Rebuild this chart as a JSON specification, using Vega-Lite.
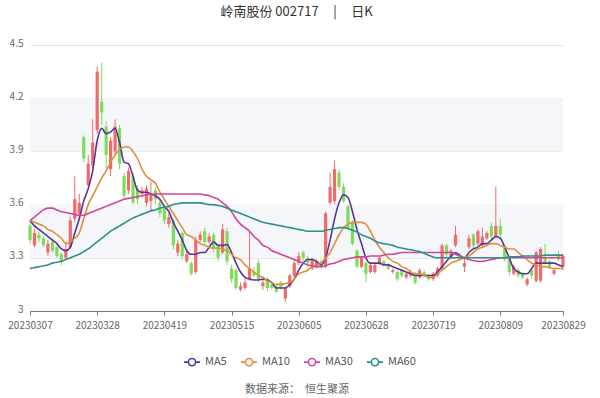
{
  "$schema": "https://vega.github.io/schema/vega-lite/v6.json",
  "width": 533,
  "height": 266,
  "autosize": {"type": "none"},
  "padding": {"left": 30, "top": 45, "right": 37, "bottom": 87},
  "background": "white",
  "config": {
    "font": "Noto Sans CJK SC",
    "view": {"stroke": null}
  },
  "title": {
    "text": "岭南股份 002717\u00a0\u00a0\u00a0\u00a0\u00a0|\u00a0\u00a0\u00a0\u00a0\u00a0日K",
    "anchor": "middle",
    "fontSize": 13,
    "fontWeight": "normal",
    "color": "#333333",
    "offset": 19
  },
  "datasets": {
    "k": [
      {"d":"20230307","o":3.48,"c":3.40,"h":3.50,"l":3.38,"MA5":3.51,"MA10":3.51,"MA30":3.51,"MA60":3.24},
      {"d":"20230308","o":3.37,"c":3.44,"h":3.46,"l":3.36,"MA5":3.48,"MA10":3.50,"MA30":3.53,"MA60":3.245},
      {"d":"20230309","o":3.43,"c":3.41,"h":3.45,"l":3.39,"MA5":3.46,"MA10":3.49,"MA30":3.55,"MA60":3.25},
      {"d":"20230310","o":3.41,"c":3.37,"h":3.42,"l":3.36,"MA5":3.44,"MA10":3.48,"MA30":3.57,"MA60":3.255},
      {"d":"20230313","o":3.33,"c":3.38,"h":3.40,"l":3.31,"MA5":3.42,"MA10":3.46,"MA30":3.58,"MA60":3.26},
      {"d":"20230314","o":3.39,"c":3.34,"h":3.41,"l":3.33,"MA5":3.40,"MA10":3.45,"MA30":3.58,"MA60":3.27},
      {"d":"20230315","o":3.36,"c":3.31,"h":3.37,"l":3.30,"MA5":3.38,"MA10":3.43,"MA30":3.57,"MA60":3.275},
      {"d":"20230316","o":3.32,"c":3.28,"h":3.33,"l":3.26,"MA5":3.35,"MA10":3.41,"MA30":3.56,"MA60":3.28},
      {"d":"20230317","o":3.30,"c":3.35,"h":3.39,"l":3.29,"MA5":3.34,"MA10":3.38,"MA30":3.555,"MA60":3.29},
      {"d":"20230320","o":3.36,"c":3.51,"h":3.53,"l":3.35,"MA5":3.36,"MA10":3.39,"MA30":3.55,"MA60":3.30},
      {"d":"20230321","o":3.52,"c":3.63,"h":3.76,"l":3.50,"MA5":3.44,"MA10":3.41,"MA30":3.545,"MA60":3.31},
      {"d":"20230322","o":3.55,"c":3.61,"h":3.66,"l":3.52,"MA5":3.52,"MA10":3.44,"MA30":3.54,"MA60":3.32},
      {"d":"20230323","o":3.98,"c":3.86,"h":3.99,"l":3.84,"MA5":3.62,"MA10":3.52,"MA30":3.54,"MA60":3.335},
      {"d":"20230324","o":3.71,"c":3.83,"h":3.88,"l":3.70,"MA5":3.69,"MA10":3.60,"MA30":3.55,"MA60":3.35},
      {"d":"20230327","o":3.82,"c":3.95,"h":4.08,"l":3.80,"MA5":3.79,"MA10":3.65,"MA30":3.56,"MA60":3.37},
      {"d":"20230328","o":4.02,"c":4.35,"h":4.38,"l":4.00,"MA5":3.96,"MA10":3.70,"MA30":3.57,"MA60":3.39},
      {"d":"20230329","o":4.18,"c":4.12,"h":4.40,"l":4.05,"MA5":4.03,"MA10":3.75,"MA30":3.58,"MA60":3.41},
      {"d":"20230330","o":4.04,"c":3.88,"h":4.07,"l":3.80,"MA5":4.00,"MA10":3.79,"MA30":3.59,"MA60":3.43},
      {"d":"20230331","o":3.80,"c":3.96,"h":3.98,"l":3.76,"MA5":4.01,"MA10":3.84,"MA30":3.60,"MA60":3.45},
      {"d":"20230403","o":3.90,"c":4.04,"h":4.08,"l":3.88,"MA5":4.03,"MA10":3.88,"MA30":3.61,"MA60":3.465},
      {"d":"20230404","o":4.03,"c":3.83,"h":4.05,"l":3.80,"MA5":3.95,"MA10":3.91,"MA30":3.62,"MA60":3.48},
      {"d":"20230406","o":3.76,"c":3.65,"h":3.78,"l":3.63,"MA5":3.84,"MA10":3.925,"MA30":3.63,"MA60":3.495},
      {"d":"20230407","o":3.68,"c":3.79,"h":3.81,"l":3.66,"MA5":3.83,"MA10":3.925,"MA30":3.635,"MA60":3.51},
      {"d":"20230410","o":3.76,"c":3.61,"h":3.78,"l":3.60,"MA5":3.76,"MA10":3.90,"MA30":3.64,"MA60":3.525},
      {"d":"20230411","o":3.69,"c":3.63,"h":3.71,"l":3.60,"MA5":3.68,"MA10":3.86,"MA30":3.645,"MA60":3.535},
      {"d":"20230412","o":3.66,"c":3.68,"h":3.70,"l":3.64,"MA5":3.67,"MA10":3.80,"MA30":3.65,"MA60":3.545},
      {"d":"20230413","o":3.61,"c":3.69,"h":3.71,"l":3.59,"MA5":3.67,"MA10":3.76,"MA30":3.655,"MA60":3.555},
      {"d":"20230414","o":3.62,"c":3.66,"h":3.73,"l":3.56,"MA5":3.66,"MA10":3.74,"MA30":3.66,"MA60":3.565},
      {"d":"20230417","o":3.68,"c":3.63,"h":3.70,"l":3.60,"MA5":3.65,"MA10":3.72,"MA30":3.66,"MA60":3.57},
      {"d":"20230418","o":3.61,"c":3.55,"h":3.63,"l":3.53,"MA5":3.63,"MA10":3.67,"MA30":3.66,"MA60":3.58},
      {"d":"20230419","o":3.58,"c":3.51,"h":3.60,"l":3.49,"MA5":3.59,"MA10":3.63,"MA30":3.66,"MA60":3.585},
      {"d":"20230420","o":3.49,"c":3.53,"h":3.55,"l":3.47,"MA5":3.56,"MA10":3.59,"MA30":3.66,"MA60":3.59},
      {"d":"20230421","o":3.51,"c":3.37,"h":3.52,"l":3.35,"MA5":3.50,"MA10":3.55,"MA30":3.66,"MA60":3.60},
      {"d":"20230424","o":3.33,"c":3.38,"h":3.40,"l":3.31,"MA5":3.45,"MA10":3.51,"MA30":3.66,"MA60":3.605},
      {"d":"20230425","o":3.44,"c":3.31,"h":3.45,"l":3.29,"MA5":3.40,"MA10":3.47,"MA30":3.66,"MA60":3.61},
      {"d":"20230426","o":3.28,"c":3.32,"h":3.35,"l":3.27,"MA5":3.34,"MA10":3.43,"MA30":3.66,"MA60":3.61},
      {"d":"20230427","o":3.27,"c":3.21,"h":3.28,"l":3.20,"MA5":3.32,"MA10":3.42,"MA30":3.66,"MA60":3.61},
      {"d":"20230428","o":3.22,"c":3.40,"h":3.42,"l":3.21,"MA5":3.32,"MA10":3.40,"MA30":3.66,"MA60":3.61},
      {"d":"20230504","o":3.40,"c":3.43,"h":3.45,"l":3.39,"MA5":3.33,"MA10":3.38,"MA30":3.66,"MA60":3.61},
      {"d":"20230505","o":3.45,"c":3.39,"h":3.47,"l":3.37,"MA5":3.33,"MA10":3.37,"MA30":3.655,"MA60":3.605},
      {"d":"20230508","o":3.39,"c":3.42,"h":3.44,"l":3.38,"MA5":3.36,"MA10":3.36,"MA30":3.65,"MA60":3.60},
      {"d":"20230509","o":3.43,"c":3.35,"h":3.44,"l":3.33,"MA5":3.39,"MA10":3.355,"MA30":3.64,"MA60":3.60},
      {"d":"20230510","o":3.37,"c":3.30,"h":3.38,"l":3.28,"MA5":3.37,"MA10":3.355,"MA30":3.63,"MA60":3.595},
      {"d":"20230511","o":3.33,"c":3.46,"h":3.49,"l":3.32,"MA5":3.37,"MA10":3.35,"MA30":3.61,"MA60":3.59},
      {"d":"20230512","o":3.45,"c":3.28,"h":3.47,"l":3.26,"MA5":3.375,"MA10":3.34,"MA30":3.59,"MA60":3.58},
      {"d":"20230515","o":3.24,"c":3.18,"h":3.26,"l":3.16,"MA5":3.33,"MA10":3.32,"MA30":3.56,"MA60":3.57},
      {"d":"20230516","o":3.23,"c":3.13,"h":3.24,"l":3.12,"MA5":3.27,"MA10":3.30,"MA30":3.52,"MA60":3.56},
      {"d":"20230517","o":3.12,"c":3.14,"h":3.16,"l":3.11,"MA5":3.22,"MA10":3.29,"MA30":3.49,"MA60":3.55},
      {"d":"20230518","o":3.13,"c":3.16,"h":3.18,"l":3.12,"MA5":3.19,"MA10":3.26,"MA30":3.47,"MA60":3.54},
      {"d":"20230519","o":3.18,"c":3.24,"h":3.45,"l":3.17,"MA5":3.18,"MA10":3.24,"MA30":3.45,"MA60":3.53},
      {"d":"20230522","o":3.22,"c":3.20,"h":3.25,"l":3.19,"MA5":3.175,"MA10":3.22,"MA30":3.42,"MA60":3.52},
      {"d":"20230523","o":3.27,"c":3.18,"h":3.29,"l":3.16,"MA5":3.175,"MA10":3.20,"MA30":3.40,"MA60":3.51},
      {"d":"20230524","o":3.14,"c":3.16,"h":3.18,"l":3.12,"MA5":3.18,"MA10":3.19,"MA30":3.37,"MA60":3.50},
      {"d":"20230525","o":3.18,"c":3.13,"h":3.19,"l":3.11,"MA5":3.175,"MA10":3.17,"MA30":3.36,"MA60":3.495},
      {"d":"20230526","o":3.15,"c":3.13,"h":3.16,"l":3.12,"MA5":3.16,"MA10":3.16,"MA30":3.34,"MA60":3.49},
      {"d":"20230529","o":3.14,"c":3.11,"h":3.15,"l":3.10,"MA5":3.13,"MA10":3.15,"MA30":3.33,"MA60":3.485},
      {"d":"20230530","o":3.16,"c":3.13,"h":3.17,"l":3.12,"MA5":3.13,"MA10":3.15,"MA30":3.32,"MA60":3.48},
      {"d":"20230531","o":3.07,"c":3.13,"h":3.14,"l":3.05,"MA5":3.13,"MA10":3.155,"MA30":3.31,"MA60":3.475},
      {"d":"20230601","o":3.14,"c":3.20,"h":3.21,"l":3.13,"MA5":3.15,"MA10":3.16,"MA30":3.30,"MA60":3.47},
      {"d":"20230602","o":3.20,"c":3.27,"h":3.29,"l":3.19,"MA5":3.18,"MA10":3.18,"MA30":3.29,"MA60":3.465},
      {"d":"20230605","o":3.27,"c":3.31,"h":3.33,"l":3.26,"MA5":3.23,"MA10":3.21,"MA30":3.28,"MA60":3.46},
      {"d":"20230606","o":3.33,"c":3.30,"h":3.34,"l":3.28,"MA5":3.27,"MA10":3.22,"MA30":3.27,"MA60":3.455},
      {"d":"20230607","o":3.30,"c":3.27,"h":3.31,"l":3.25,"MA5":3.29,"MA10":3.23,"MA30":3.26,"MA60":3.45},
      {"d":"20230608","o":3.24,"c":3.29,"h":3.30,"l":3.23,"MA5":3.29,"MA10":3.25,"MA30":3.255,"MA60":3.45},
      {"d":"20230609","o":3.25,"c":3.28,"h":3.29,"l":3.24,"MA5":3.28,"MA10":3.26,"MA30":3.25,"MA60":3.45},
      {"d":"20230612","o":3.28,"c":3.25,"h":3.29,"l":3.24,"MA5":3.26,"MA10":3.27,"MA30":3.25,"MA60":3.45},
      {"d":"20230613","o":3.25,"c":3.55,"h":3.56,"l":3.24,"MA5":3.30,"MA10":3.30,"MA30":3.255,"MA60":3.455},
      {"d":"20230614","o":3.61,"c":3.70,"h":3.78,"l":3.60,"MA5":3.40,"MA10":3.33,"MA30":3.265,"MA60":3.46},
      {"d":"20230615","o":3.62,"c":3.80,"h":3.85,"l":3.60,"MA5":3.52,"MA10":3.38,"MA30":3.27,"MA60":3.465},
      {"d":"20230616","o":3.78,"c":3.70,"h":3.80,"l":3.68,"MA5":3.61,"MA10":3.43,"MA30":3.28,"MA60":3.47},
      {"d":"20230619","o":3.70,"c":3.62,"h":3.72,"l":3.61,"MA5":3.655,"MA10":3.47,"MA30":3.29,"MA60":3.47},
      {"d":"20230620","o":3.59,"c":3.47,"h":3.60,"l":3.46,"MA5":3.64,"MA10":3.49,"MA30":3.295,"MA60":3.465},
      {"d":"20230621","o":3.50,"c":3.38,"h":3.51,"l":3.37,"MA5":3.56,"MA10":3.50,"MA30":3.30,"MA60":3.455},
      {"d":"20230626","o":3.34,"c":3.25,"h":3.35,"l":3.24,"MA5":3.46,"MA10":3.50,"MA30":3.305,"MA60":3.445},
      {"d":"20230627","o":3.25,"c":3.30,"h":3.31,"l":3.24,"MA5":3.38,"MA10":3.50,"MA30":3.305,"MA60":3.43},
      {"d":"20230628","o":3.27,"c":3.21,"h":3.28,"l":3.16,"MA5":3.30,"MA10":3.49,"MA30":3.305,"MA60":3.42},
      {"d":"20230629","o":3.22,"c":3.26,"h":3.27,"l":3.21,"MA5":3.27,"MA10":3.45,"MA30":3.31,"MA60":3.41},
      {"d":"20230630","o":3.22,"c":3.26,"h":3.27,"l":3.21,"MA5":3.27,"MA10":3.40,"MA30":3.31,"MA60":3.395},
      {"d":"20230703","o":3.27,"c":3.30,"h":3.31,"l":3.26,"MA5":3.27,"MA10":3.36,"MA30":3.31,"MA60":3.385},
      {"d":"20230704","o":3.28,"c":3.26,"h":3.29,"l":3.25,"MA5":3.26,"MA10":3.33,"MA30":3.315,"MA60":3.38},
      {"d":"20230705","o":3.26,"c":3.24,"h":3.27,"l":3.23,"MA5":3.26,"MA10":3.30,"MA30":3.32,"MA60":3.375},
      {"d":"20230706","o":3.22,"c":3.23,"h":3.24,"l":3.21,"MA5":3.25,"MA10":3.28,"MA30":3.32,"MA60":3.37},
      {"d":"20230707","o":3.22,"c":3.18,"h":3.23,"l":3.17,"MA5":3.24,"MA10":3.27,"MA30":3.325,"MA60":3.36},
      {"d":"20230710","o":3.23,"c":3.20,"h":3.24,"l":3.19,"MA5":3.23,"MA10":3.25,"MA30":3.33,"MA60":3.355},
      {"d":"20230711","o":3.19,"c":3.21,"h":3.22,"l":3.18,"MA5":3.22,"MA10":3.24,"MA30":3.33,"MA60":3.35},
      {"d":"20230712","o":3.20,"c":3.22,"h":3.23,"l":3.19,"MA5":3.21,"MA10":3.22,"MA30":3.33,"MA60":3.345},
      {"d":"20230713","o":3.21,"c":3.16,"h":3.22,"l":3.15,"MA5":3.20,"MA10":3.21,"MA30":3.33,"MA60":3.34},
      {"d":"20230714","o":3.19,"c":3.23,"h":3.24,"l":3.18,"MA5":3.20,"MA10":3.21,"MA30":3.33,"MA60":3.335},
      {"d":"20230717","o":3.22,"c":3.20,"h":3.23,"l":3.19,"MA5":3.20,"MA10":3.20,"MA30":3.33,"MA60":3.325},
      {"d":"20230718","o":3.20,"c":3.18,"h":3.21,"l":3.17,"MA5":3.20,"MA10":3.19,"MA30":3.33,"MA60":3.315},
      {"d":"20230719","o":3.18,"c":3.21,"h":3.22,"l":3.17,"MA5":3.20,"MA10":3.19,"MA30":3.33,"MA60":3.305},
      {"d":"20230720","o":3.20,"c":3.24,"h":3.25,"l":3.19,"MA5":3.22,"MA10":3.21,"MA30":3.33,"MA60":3.30},
      {"d":"20230721","o":3.24,"c":3.37,"h":3.38,"l":3.23,"MA5":3.25,"MA10":3.23,"MA30":3.33,"MA60":3.30},
      {"d":"20230724","o":3.37,"c":3.32,"h":3.38,"l":3.30,"MA5":3.28,"MA10":3.25,"MA30":3.33,"MA60":3.30},
      {"d":"20230725","o":3.30,"c":3.34,"h":3.35,"l":3.29,"MA5":3.31,"MA10":3.27,"MA30":3.33,"MA60":3.30},
      {"d":"20230726","o":3.37,"c":3.43,"h":3.48,"l":3.36,"MA5":3.33,"MA10":3.28,"MA30":3.32,"MA60":3.30},
      {"d":"20230727","o":3.32,"c":3.30,"h":3.33,"l":3.29,"MA5":3.31,"MA10":3.29,"MA30":3.31,"MA60":3.30},
      {"d":"20230728","o":3.25,"c":3.27,"h":3.30,"l":3.22,"MA5":3.30,"MA10":3.30,"MA30":3.30,"MA60":3.30},
      {"d":"20230731","o":3.36,"c":3.41,"h":3.43,"l":3.35,"MA5":3.33,"MA10":3.31,"MA30":3.29,"MA60":3.30},
      {"d":"20230801","o":3.43,"c":3.37,"h":3.44,"l":3.35,"MA5":3.35,"MA10":3.33,"MA30":3.285,"MA60":3.30},
      {"d":"20230802","o":3.38,"c":3.45,"h":3.46,"l":3.37,"MA5":3.36,"MA10":3.35,"MA30":3.28,"MA60":3.30},
      {"d":"20230803","o":3.37,"c":3.42,"h":3.47,"l":3.36,"MA5":3.38,"MA10":3.36,"MA30":3.28,"MA60":3.30},
      {"d":"20230804","o":3.41,"c":3.44,"h":3.45,"l":3.40,"MA5":3.38,"MA10":3.37,"MA30":3.285,"MA60":3.30},
      {"d":"20230807","o":3.48,"c":3.42,"h":3.50,"l":3.40,"MA5":3.40,"MA10":3.38,"MA30":3.29,"MA60":3.30},
      {"d":"20230808","o":3.42,"c":3.48,"h":3.70,"l":3.41,"MA5":3.42,"MA10":3.38,"MA30":3.295,"MA60":3.30},
      {"d":"20230809","o":3.48,"c":3.43,"h":3.52,"l":3.41,"MA5":3.41,"MA10":3.37,"MA30":3.30,"MA60":3.30},
      {"d":"20230810","o":3.36,"c":3.29,"h":3.37,"l":3.28,"MA5":3.36,"MA10":3.36,"MA30":3.30,"MA60":3.30},
      {"d":"20230811","o":3.30,"c":3.22,"h":3.31,"l":3.20,"MA5":3.30,"MA10":3.35,"MA30":3.30,"MA60":3.305},
      {"d":"20230814","o":3.21,"c":3.25,"h":3.26,"l":3.20,"MA5":3.24,"MA10":3.35,"MA30":3.30,"MA60":3.305},
      {"d":"20230815","o":3.23,"c":3.20,"h":3.24,"l":3.19,"MA5":3.22,"MA10":3.33,"MA30":3.30,"MA60":3.305},
      {"d":"20230816","o":3.21,"c":3.19,"h":3.22,"l":3.18,"MA5":3.21,"MA10":3.31,"MA30":3.30,"MA60":3.31},
      {"d":"20230817","o":3.15,"c":3.18,"h":3.19,"l":3.14,"MA5":3.21,"MA10":3.29,"MA30":3.30,"MA60":3.31},
      {"d":"20230818","o":3.23,"c":3.20,"h":3.24,"l":3.18,"MA5":3.24,"MA10":3.27,"MA30":3.30,"MA60":3.31},
      {"d":"20230821","o":3.17,"c":3.33,"h":3.34,"l":3.16,"MA5":3.27,"MA10":3.26,"MA30":3.30,"MA60":3.31},
      {"d":"20230822","o":3.17,"c":3.35,"h":3.36,"l":3.16,"MA5":3.27,"MA10":3.25,"MA30":3.30,"MA60":3.31},
      {"d":"20230823","o":3.30,"c":3.27,"h":3.38,"l":3.26,"MA5":3.27,"MA10":3.25,"MA30":3.30,"MA60":3.315},
      {"d":"20230824","o":3.28,"c":3.25,"h":3.29,"l":3.24,"MA5":3.27,"MA10":3.245,"MA30":3.30,"MA60":3.315},
      {"d":"20230825","o":3.21,"c":3.23,"h":3.24,"l":3.20,"MA5":3.27,"MA10":3.24,"MA30":3.30,"MA60":3.315},
      {"d":"20230828","o":3.32,"c":3.29,"h":3.34,"l":3.28,"MA5":3.26,"MA10":3.24,"MA30":3.30,"MA60":3.315},
      {"d":"20230829","o":3.25,"c":3.31,"h":3.32,"l":3.23,"MA5":3.25,"MA10":3.24,"MA30":3.30,"MA60":3.315}
    ],
    "bands": [
      {"lo": 3.3, "hi": 3.6},
      {"lo": 3.9, "hi": 4.2}
    ]
  },
  "resolve": {"scale": {"y": "shared"}, "axis": {"y": "shared", "x": "shared"}},
  "layer": [
    {
      "data": {"name": "bands"},
      "mark": {"type": "rect", "fill": "#f4f6fa"},
      "encoding": {
        "y": {"field": "lo", "type": "quantitative", "title": null,
          "scale": {"domain": [3, 4.5], "nice": false, "zero": false},
          "axis": {
            "values": [3, 3.3, 3.6, 3.9, 4.2, 4.5], "format": "~g",
            "domain": false, "ticks": false, "labelFontSize": 10, "labelColor": "#666666",
            "labelPadding": 7, "labelOffset": -2, "gridColor": "#e6e6e6", "title": null
          }
        },
        "y2": {"field": "hi"}
      }
    },
    {
      "data": {"name": "k"},
      "encoding": {
        "x": {
          "field": "d", "type": "ordinal", "sort": null,
          "scale": {"type": "point", "padding": 0},
          "axis": {
            "values": ["20230307","20230328","20230419","20230515","20230605","20230628","20230719","20230809","20230829"],
            "labelAngle": 0, "labelFontSize": 10, "labelColor": "#666666",
            "domainColor": "#777777", "tickColor": "#777777", "tickSize": 4,
            "labelOverlap": false, "labelBound": false, "labelPadding": 5, "grid": false,
            "title": "数据来源：\u00a0\u00a0恒生聚源", "titleFontSize": 11, "titleFontWeight": "normal",
            "titleColor": "#666666", "titlePadding": 53
          }
        }
      },
      "layer": [
        {
          "mark": {"type": "rule", "strokeWidth": 1},
          "encoding": {
            "y": {"field": "l", "type": "quantitative", "title": null},
            "y2": {"field": "h"},
            "color": {"condition": {"test": "datum.c >= datum.o", "value": "#f06b6b"}, "value": "#7fdc5a"}
          }
        },
        {
          "mark": {"type": "bar", "size": 3.2},
          "encoding": {
            "y": {"field": "o", "type": "quantitative", "title": null},
            "y2": {"field": "c"},
            "color": {"condition": {"test": "datum.c >= datum.o", "value": "#f06b6b"}, "value": "#7fdc5a"}
          }
        },
        {
          "transform": [{"fold": ["MA5", "MA10", "MA30", "MA60"], "as": ["key", "value"]}],
          "mark": {"type": "line", "strokeWidth": 1.6, "interpolate": "monotone"},
          "encoding": {
            "y": {"field": "value", "type": "quantitative", "title": null},
            "color": {
              "field": "key", "type": "nominal",
              "scale": {"domain": ["MA5", "MA10", "MA30", "MA60"], "range": ["#56379a", "#e08f3b", "#d1479b", "#2e8f8b"]},
              "legend": {
                "title": null, "orient": "none", "direction": "horizontal",
                "legendX": 153, "legendY": 308,
                "symbolType": "M-1,0L-0.45,0M0.45,0L1,0M0.45,0A0.45,0.45 0 1,1 -0.45,0A0.45,0.45 0 1,1 0.45,0",
                "symbolSize": 260, "symbolStrokeWidth": 1.6, "symbolFillColor": "white",
                "labelFontSize": 11, "labelColor": "#555555", "columnPadding": 10, "labelOffset": 4
              }
            }
          }
        }
      ]
    }
  ]
}
